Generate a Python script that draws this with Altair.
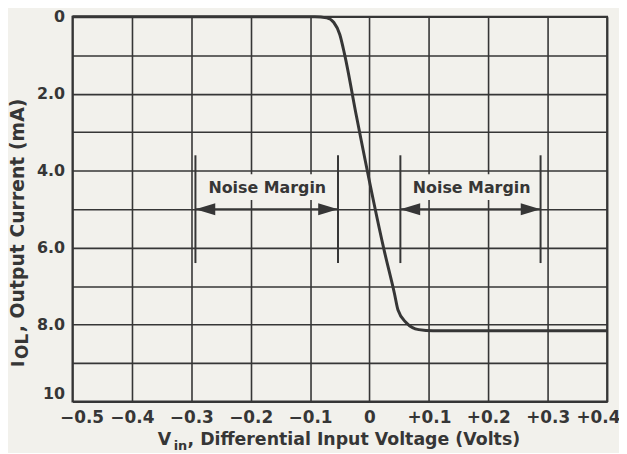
import altair as alt
import pandas as pd

# ---- data ----
curve_v = [-0.5, -0.092, -0.072, -0.060, -0.050, -0.042, -0.022, 0.025, 0.042, 0.048, 0.062, 0.083, 0.107, 0.4]
curve_i = [0.0, 0.0, 0.03, 0.15, 0.46, 0.97, 2.58, 6.09, 7.19, 7.62, 7.95, 8.13, 8.16, 8.16]

x_ticks = [-0.5, -0.4, -0.3, -0.2, -0.1, 0.0, 0.1, 0.2, 0.3, 0.4]
y_ticks = [0, 1, 2, 3, 4, 5, 6, 7, 8, 9, 10]

margin_left = [-0.293, 0.052]     # left edges of the two noise-margin spans
margin_right = [-0.053, 0.288]    # right edges
margin_top = 3.6
margin_bottom = 6.4
arrow_level = 5.0
label_center = [-0.172, 0.172]
label_level = 4.58
label_text = ["Noise Margin", "Noise Margin"]

INK = "#363636"
BG = "#f2f1ec"
FONT = "DejaVu Sans"

curve_df = pd.DataFrame({"v": curve_v, "i": curve_i})
edges_df = pd.DataFrame({"v": margin_left + margin_right})
spans_df = pd.DataFrame({"a": margin_left, "b": margin_right})
labels_df = pd.DataFrame({"c": label_center, "t": label_text,
                          "lo": [c - 0.11 for c in label_center],
                          "hi": [c + 0.11 for c in label_center]})

xs = alt.Scale(domain=[-0.5, 0.4], nice=False, zero=False)
ys = alt.Scale(domain=[0, 10], reverse=True, nice=False, zero=False)

x_axis = alt.Axis(
    values=x_ticks, title=None, grid=True, ticks=False, domain=False,
    labelExpr="datum.value > 0.001 ? '+' + format(datum.value, '.1f') : (datum.value < -0.001 ? '−' + format(-datum.value, '.1f') : '0')",
    labelFont=FONT, labelFontWeight="bold", labelFontSize=17, labelColor=INK,
    labelPadding=8, gridColor=INK, gridWidth=1.6, gridOpacity=1,
    labelOverlap=False, labelFlush=True, labelFlushOffset=13,
)
y_axis = alt.Axis(
    values=y_ticks, title=None, grid=True, ticks=False, domain=False,
    labelExpr="datum.value % 2 != 0 ? '' : (datum.value == 0 ? '0' : (datum.value == 10 ? '10' : format(datum.value, '.1f')))",
    labelFont=FONT, labelFontWeight="bold", labelFontSize=16, labelColor=INK,
    labelPadding=8, gridColor=INK, gridWidth=1.6, gridOpacity=1,
    labelOverlap=False, labelFlush=False,
    labelBaseline={"condition": {"test": "datum.value == 10", "value": "bottom"}, "value": "middle"},
)

curve = alt.Chart(curve_df).mark_line(color=INK, strokeWidth=3, interpolate="monotone").encode(
    x=alt.X("v:Q", scale=xs, axis=x_axis),
    y=alt.Y("i:Q", scale=ys, axis=y_axis),
)

gaps = alt.Chart(labels_df).mark_rect(color=BG).encode(
    x=alt.X("lo:Q", scale=xs, axis=x_axis), x2="hi:Q",
    y=alt.datum(4.09, scale=ys, axis=y_axis), y2=alt.datum(4.76),
)

edges = alt.Chart(edges_df).mark_rule(color=INK, strokeWidth=2).encode(
    x=alt.X("v:Q", scale=xs, axis=x_axis),
    y=alt.datum(margin_top, scale=ys, axis=y_axis), y2=alt.datum(margin_bottom),
)

shafts = alt.Chart(spans_df).mark_rule(color=INK, strokeWidth=2).encode(
    x=alt.X("a:Q", scale=xs, axis=x_axis), x2="b:Q",
    y=alt.datum(arrow_level, scale=ys, axis=y_axis),
)

left_heads = alt.Chart(spans_df).mark_point(
    shape="M-1,0L1,-0.6L1,0.6Z", size=400, filled=True, color=INK, opacity=1, xOffset=10
).encode(x=alt.X("a:Q", scale=xs, axis=x_axis), y=alt.datum(arrow_level, scale=ys, axis=y_axis))

right_heads = alt.Chart(spans_df).mark_point(
    shape="M1,0L-1,-0.6L-1,0.6Z", size=400, filled=True, color=INK, opacity=1, xOffset=-10
).encode(x=alt.X("b:Q", scale=xs, axis=x_axis), y=alt.datum(arrow_level, scale=ys, axis=y_axis))

labels = alt.Chart(labels_df).mark_text(
    font=FONT, fontWeight="bold", fontSize=16, color=INK, align="center", baseline="alphabetic"
).encode(x=alt.X("c:Q", scale=xs, axis=x_axis), y=alt.datum(label_level, scale=ys, axis=y_axis), text="t:N")

one = pd.DataFrame({"k": [0]})

def title_piece(text, px, py, size, angle=0):
    return alt.Chart(one).mark_text(
        text=text, font=FONT, fontWeight="bold", fontSize=size, color=INK,
        align="left", baseline="alphabetic", angle=angle,
    ).encode(x=alt.value(px), y=alt.value(py))

x_title = [
    title_piece("V", 86, 432, 17.5),
    title_piece("in", 102, 437, 13),
    title_piece(", Differential Input Voltage (Volts)", 116, 432, 17.5),
]
y_title = [
    title_piece("I", -49, 353, 17, 270),
    title_piece("OL", -45, 345, 17, 270),
    title_piece(", Output Current (mA)", -49, 318, 19, 270),
]

chart = alt.layer(curve, gaps, edges, shafts, left_heads, right_heads, labels, *x_title, *y_title).properties(
    width=539, height=388,
    autosize=alt.AutoSizeParams(type="none"),
    padding={"left": 65, "top": 7, "right": 12, "bottom": 50},
    background=BG,
).configure_view(stroke=INK, strokeWidth=2)

chart.save("out.html", embed_options={"renderer": "svg", "actions": False})
